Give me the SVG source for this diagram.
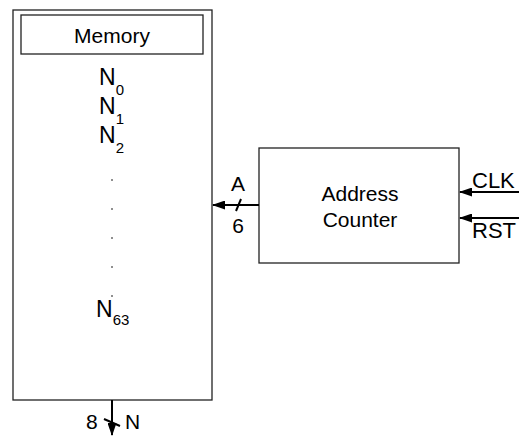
<svg xmlns="http://www.w3.org/2000/svg" width="519" height="436" viewBox="0 0 519 436">
<style>
text{font-family:"Liberation Sans",Arial,sans-serif;fill:#000}
.box{fill:#fff;stroke:#222;stroke-width:1.3}
.lbl{font-size:21px}
.io{font-size:22px}
.n{font-size:23px}
.sub{font-size:15px}
.wire{stroke:#000;stroke-width:2;fill:none}
</style>
<defs>
<marker id="ah" markerWidth="13" markerHeight="9" refX="12" refY="4.5" orient="auto" markerUnits="userSpaceOnUse">
<path d="M0,0 L13,4.5 L0,9 Z" fill="#000"/>
</marker>
</defs>
<rect width="519" height="436" fill="#fff"/>
<g id="memory">
<rect class="box" x="13" y="10" width="199" height="390"/>
<rect class="box" x="21" y="15" width="182" height="39"/>
<text class="lbl" x="112" y="43" text-anchor="middle">Memory</text>
<text class="n" x="99" y="85">N<tspan class="sub" dy="10">0</tspan></text>
<text class="n" x="99" y="114">N<tspan class="sub" dy="10">1</tspan></text>
<text class="n" x="99" y="143">N<tspan class="sub" dy="10">2</tspan></text>
<g fill="#000">
<circle cx="112" cy="180" r="0.8"/>
<circle cx="112" cy="209" r="0.8"/>
<circle cx="112" cy="238" r="0.8"/>
<circle cx="112" cy="267" r="0.8"/>
<circle cx="112" cy="296" r="0.8"/>
</g>
<text class="n" x="96" y="317">N<tspan class="sub" dy="8">63</tspan></text>
</g>
<g id="counter">
<rect class="box" x="259" y="148" width="200" height="115"/>
<text class="lbl" x="360" y="201" text-anchor="middle">Address</text>
<text class="lbl" x="360" y="227" text-anchor="middle">Counter</text>
</g>
<g id="connectors">
<line class="wire" x1="259" y1="205" x2="213" y2="205" marker-end="url(#ah)"/>
<line class="wire" x1="236" y1="211" x2="241" y2="199"/>
<text class="lbl" x="238" y="191" text-anchor="middle">A</text>
<text class="lbl" x="238" y="233" text-anchor="middle">6</text>
<line class="wire" x1="519" y1="192" x2="460" y2="192" marker-end="url(#ah)"/>
<text class="io" x="472" y="188">CLK</text>
<line class="wire" x1="519" y1="218" x2="460" y2="218" marker-end="url(#ah)"/>
<text class="io" x="472" y="238">RST</text>
<line class="wire" x1="112" y1="400" x2="112" y2="435" marker-end="url(#ah)"/>
<line class="wire" x1="104" y1="419" x2="120" y2="426"/>
<text class="lbl" x="86" y="429">8</text>
<text class="lbl" x="125" y="429">N</text>
</g>
</svg>
